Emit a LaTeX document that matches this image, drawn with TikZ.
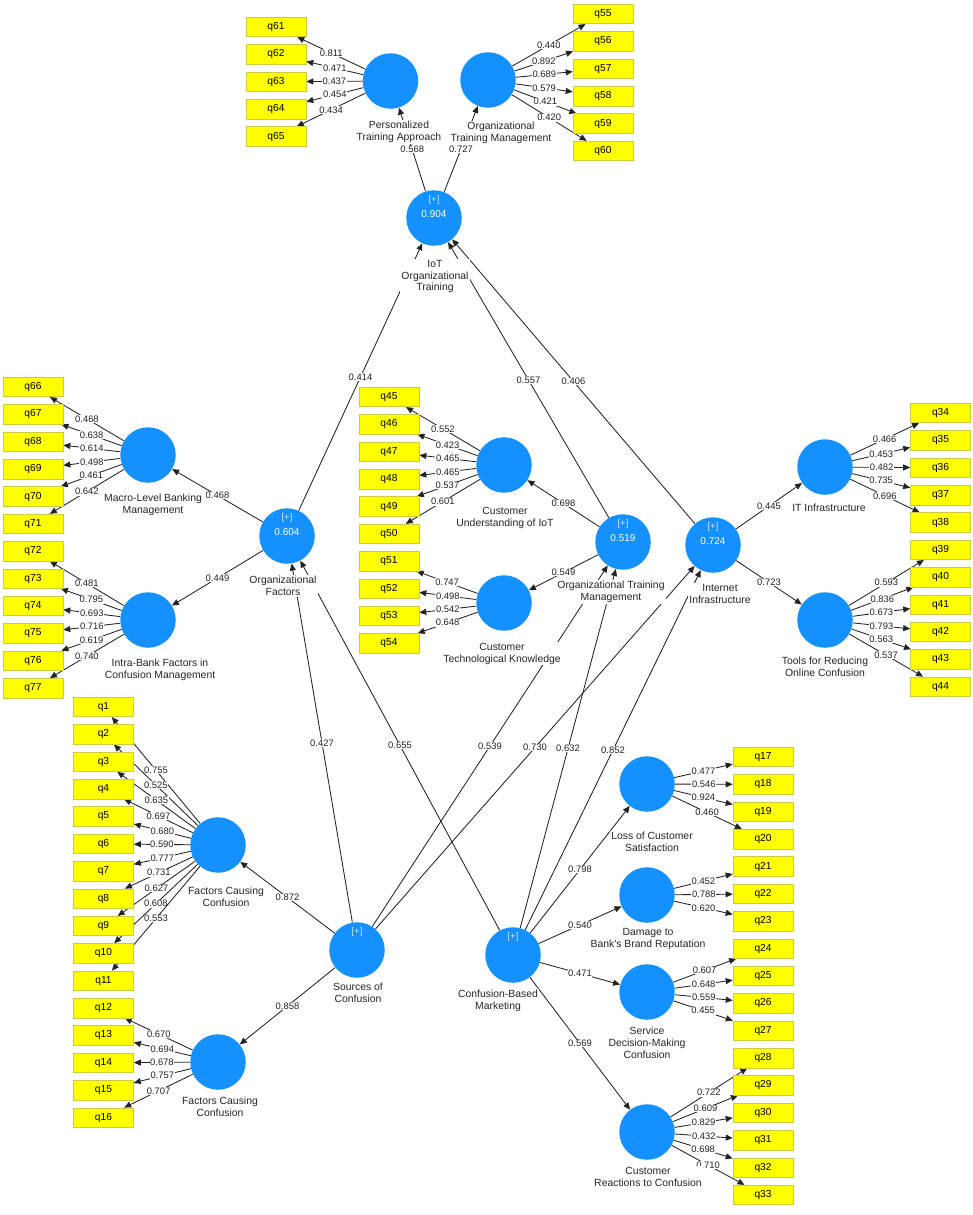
\documentclass[tikz,border=0pt]{standalone}
\usepackage{fontspec}
\setmainfont{Liberation Sans}
\usetikzlibrary{arrows.meta}
\definecolor{lvblue}{RGB}{20,145,255}
\definecolor{indyellow}{RGB}{255,255,0}
\definecolor{indrule}{RGB}{205,205,60}
\definecolor{plusblue}{RGB}{200,228,255}
\definecolor{pathgray}{RGB}{35,35,35}
\pgfdeclarelayer{edges}
\pgfsetlayers{edges,main}

\begin{document}
\begin{tikzpicture}[x=1pt,y=-1pt,>={Triangle[length=7pt,width=6pt]},
  every edge/.style={draw=pathgray,line width=0.85pt},
  lv/.style={circle,fill=lvblue,minimum size=55.5pt,inner sep=0pt},
  ind/.style={draw=indrule,line width=0.6pt,fill=indyellow,minimum width=60pt,minimum height=19.5pt,inner sep=0pt,font=\fontsize{10.2}{10.2}\selectfont},
  val/.style={pos=0.5,fill=white,inner sep=0.6pt,text=pathgray,font=\fontsize{9.4}{9.4}\selectfont},
  lvname/.style={fill=white,inner sep=1pt,anchor=north,align=center,text=black!85,font=\fontsize{10.4}{11.7}\selectfont},
  lvval/.style={text=white,inner sep=0pt,font=\fontsize{10}{10}\selectfont},
  lvplus/.style={text=plusblue,inner sep=0pt,font=\fontsize{9.5}{9.5}\selectfont}]

    \useasboundingbox (0,0) rectangle (973,1215);

    % constructs
    \node[lv] at (390.5, 81) (pta) {};
    \node[lv] at (488, 80) (otmt) {};
    \node[lv] at (434, 218) (iot) {};
    \node[lv] at (148, 455) (mlb) {};
    \node[lv] at (148, 620) (ibf) {};
    \node[lv] at (287, 536) (of) {};
    \node[lv] at (504, 465) (cui) {};
    \node[lv] at (504, 603) (ctk) {};
    \node[lv] at (623, 542) (otm) {};
    \node[lv] at (713, 545) (ii) {};
    \node[lv] at (825, 467) (iti) {};
    \node[lv] at (825, 620) (tro) {};
    \node[lv] at (218, 845) (fcc) {};
    \node[lv] at (218, 1062) (fccb) {};
    \node[lv] at (357, 950) (soc) {};
    \node[lv] at (513, 955) (cbm) {};
    \node[lv] at (647, 784) (lcs) {};
    \node[lv] at (647, 895) (dbr) {};
    \node[lv] at (647, 992) (sdm) {};
    \node[lv] at (647, 1132) (crc) {};

    \node[lvplus] at ([yshift=18pt]iot.center) (iotplus) {[+]};
    \node[lvval] at ([yshift=4pt]iot.center) (iotr) {0.904};
    \node[lvplus] at ([yshift=18pt]of.center) (ofplus) {[+]};
    \node[lvval] at ([yshift=4pt]of.center) (ofr) {0.604};
    \node[lvplus] at ([yshift=18pt]otm.center) (otmplus) {[+]};
    \node[lvval] at ([yshift=4pt]otm.center) (otmr) {0.519};
    \node[lvplus] at ([yshift=18pt]ii.center) (iiplus) {[+]};
    \node[lvval] at ([yshift=4pt]ii.center) (iir) {0.724};
    \node[lvplus] at ([yshift=18pt]soc.center) (socplus) {[+]};
    \node[lvplus] at ([yshift=18pt]cbm.center) (cbmplus) {[+]};

    % construct names
    \node[lvname] at (399, 120) (ptaname) {Personalized\\Training Approach};
    \node[lvname] at (501, 121) (otmtname) {Organizational\\Training Management};
    \node[lvname] at (435, 259) (iotname) {IoT\\Organizational\\Training};
    \node[lvname] at (153, 493) (mlbname) {Macro-Level Banking\\Management};
    \node[lvname] at (160, 658) (ibfname) {Intra-Bank Factors in\\Confusion Management};
    \node[lvname] at (283, 575) (ofname) {Organizational\\Factors};
    \node[lvname] at (505, 506) (cuiname) {Customer\\Understanding of IoT};
    \node[lvname] at (502, 642) (ctkname) {Customer\\Technological Knowledge};
    \node[lvname] at (611, 580) (otmname) {Organizational Training\\Management};
    \node[lvname] at (720, 583) (iiname) {Internet\\Infrastructure};
    \node[lvname] at (829, 503) (itiname) {IT Infrastructure};
    \node[lvname] at (825, 656) (troname) {Tools for Reducing\\Online Confusion};
    \node[lvname] at (226, 886) (fccname) {Factors Causing\\Confusion};
    \node[lvname] at (220, 1096) (fccbname) {Factors Causing\\Confusion};
    \node[lvname] at (358, 982) (socname) {Sources of\\Confusion};
    \node[lvname] at (498, 989) (cbmname) {Confusion-Based\\Marketing};
    \node[lvname] at (652, 831) (lcsname) {Loss of Customer\\Satisfaction};
    \node[lvname] at (648, 927) (dbrname) {Damage to\\Bank's Brand Reputation};
    \node[lvname] at (647, 1026) (sdmname) {Service\\Decision-Making\\Confusion};
    \node[lvname] at (648, 1166) (crcname) {Customer\\Reactions to Confusion};

    % indicators
    \node[ind] at (276, 27) (q61) {q61};
    \node[ind] at (276, 54.4) (q62) {q62};
    \node[ind] at (276, 81.7) (q63) {q63};
    \node[ind] at (276, 109.1) (q64) {q64};
    \node[ind] at (276, 136.5) (q65) {q65};

    \node[ind] at (603, 14) (q55) {q55};
    \node[ind] at (603, 41.4) (q56) {q56};
    \node[ind] at (603, 68.7) (q57) {q57};
    \node[ind] at (603, 96.1) (q58) {q58};
    \node[ind] at (603, 123.5) (q59) {q59};
    \node[ind] at (603, 150.9) (q60) {q60};

    \node[ind] at (33, 387) (q66) {q66};
    \node[ind] at (33, 414.4) (q67) {q67};
    \node[ind] at (33, 441.7) (q68) {q68};
    \node[ind] at (33, 469.1) (q69) {q69};
    \node[ind] at (33, 496.5) (q70) {q70};
    \node[ind] at (33, 523.9) (q71) {q71};
    \node[ind] at (33, 551.2) (q72) {q72};
    \node[ind] at (33, 578.6) (q73) {q73};
    \node[ind] at (33, 606) (q74) {q74};
    \node[ind] at (33, 633.3) (q75) {q75};
    \node[ind] at (33, 660.7) (q76) {q76};
    \node[ind] at (33, 688.1) (q77) {q77};

    \node[ind] at (389, 397) (q45) {q45};
    \node[ind] at (389, 424.4) (q46) {q46};
    \node[ind] at (389, 451.7) (q47) {q47};
    \node[ind] at (389, 479.1) (q48) {q48};
    \node[ind] at (389, 506.5) (q49) {q49};
    \node[ind] at (389, 533.9) (q50) {q50};
    \node[ind] at (389, 561.2) (q51) {q51};
    \node[ind] at (389, 588.6) (q52) {q52};
    \node[ind] at (389, 616) (q53) {q53};
    \node[ind] at (389, 643.3) (q54) {q54};

    \node[ind] at (940.5, 413) (q34) {q34};
    \node[ind] at (940.5, 440.4) (q35) {q35};
    \node[ind] at (940.5, 467.7) (q36) {q36};
    \node[ind] at (940.5, 495.1) (q37) {q37};
    \node[ind] at (940.5, 522.5) (q38) {q38};
    \node[ind] at (940.5, 549.9) (q39) {q39};
    \node[ind] at (940.5, 577.2) (q40) {q40};
    \node[ind] at (940.5, 604.6) (q41) {q41};
    \node[ind] at (940.5, 632) (q42) {q42};
    \node[ind] at (940.5, 659.3) (q43) {q43};
    \node[ind] at (940.5, 686.7) (q44) {q44};

    \node[ind] at (103.5, 707) (q1) {q1};
    \node[ind] at (103.5, 734.4) (q2) {q2};
    \node[ind] at (103.5, 761.7) (q3) {q3};
    \node[ind] at (103.5, 789.1) (q4) {q4};
    \node[ind] at (103.5, 816.5) (q5) {q5};
    \node[ind] at (103.5, 843.9) (q6) {q6};
    \node[ind] at (103.5, 871.2) (q7) {q7};
    \node[ind] at (103.5, 898.6) (q8) {q8};
    \node[ind] at (103.5, 926) (q9) {q9};
    \node[ind] at (103.5, 953.3) (q10) {q10};
    \node[ind] at (103.5, 980.7) (q11) {q11};
    \node[ind] at (103.5, 1008.1) (q12) {q12};
    \node[ind] at (103.5, 1035.4) (q13) {q13};
    \node[ind] at (103.5, 1062.8) (q14) {q14};
    \node[ind] at (103.5, 1090.2) (q15) {q15};
    \node[ind] at (103.5, 1117.6) (q16) {q16};

    \node[ind] at (763, 757) (q17) {q17};
    \node[ind] at (763, 784.4) (q18) {q18};
    \node[ind] at (763, 811.7) (q19) {q19};
    \node[ind] at (763, 839.1) (q20) {q20};
    \node[ind] at (763, 866.5) (q21) {q21};
    \node[ind] at (763, 893.9) (q22) {q22};
    \node[ind] at (763, 921.2) (q23) {q23};
    \node[ind] at (763, 948.6) (q24) {q24};
    \node[ind] at (763, 976) (q25) {q25};
    \node[ind] at (763, 1003.3) (q26) {q26};
    \node[ind] at (763, 1030.7) (q27) {q27};
    \node[ind] at (763, 1058.1) (q28) {q28};
    \node[ind] at (763, 1085.4) (q29) {q29};
    \node[ind] at (763, 1112.8) (q30) {q30};
    \node[ind] at (763, 1140.2) (q31) {q31};
    \node[ind] at (763, 1167.6) (q32) {q32};
    \node[ind] at (763, 1194.9) (q33) {q33};

    \begin{pgfonlayer}{edges}
    % outer loadings
    \path[->] (pta) edge node[val] {0.811} (q61);
    \path[->] (pta) edge node[val] {0.471} (q62);
    \path[->] (pta) edge node[val] {0.437} (q63);
    \path[->] (pta) edge node[val] {0.454} (q64);
    \path[->] (pta) edge node[val] {0.434} (q65);

    \path[->] (otmt) edge node[val] {0.440} (q55);
    \path[->] (otmt) edge node[val] {0.892} (q56);
    \path[->] (otmt) edge node[val] {0.689} (q57);
    \path[->] (otmt) edge node[val] {0.579} (q58);
    \path[->] (otmt) edge node[val] {0.421} (q59);
    \path[->] (otmt) edge node[val] {0.420} (q60);

    \path[->] (mlb) edge node[val] {0.468} (q66);
    \path[->] (mlb) edge node[val] {0.638} (q67);
    \path[->] (mlb) edge node[val] {0.614} (q68);
    \path[->] (mlb) edge node[val] {0.498} (q69);
    \path[->] (mlb) edge node[val] {0.461} (q70);
    \path[->] (mlb) edge node[val] {0.642} (q71);

    \path[->] (ibf) edge node[val] {0.481} (q72);
    \path[->] (ibf) edge node[val] {0.795} (q73);
    \path[->] (ibf) edge node[val] {0.693} (q74);
    \path[->] (ibf) edge node[val] {0.716} (q75);
    \path[->] (ibf) edge node[val] {0.619} (q76);
    \path[->] (ibf) edge node[val] {0.740} (q77);

    \path[->] (cui) edge node[val] {0.552} (q45);
    \path[->] (cui) edge node[val] {0.423} (q46);
    \path[->] (cui) edge node[val] {0.465} (q47);
    \path[->] (cui) edge node[val] {0.465} (q48);
    \path[->] (cui) edge node[val] {0.537} (q49);
    \path[->] (cui) edge node[val] {0.601} (q50);

    \path[->] (ctk) edge node[val] {0.747} (q51);
    \path[->] (ctk) edge node[val] {0.498} (q52);
    \path[->] (ctk) edge node[val] {0.542} (q53);
    \path[->] (ctk) edge node[val] {0.648} (q54);

    \path[->] (iti) edge node[val] {0.466} (q34);
    \path[->] (iti) edge node[val] {0.453} (q35);
    \path[->] (iti) edge node[val] {0.482} (q36);
    \path[->] (iti) edge node[val] {0.735} (q37);
    \path[->] (iti) edge node[val] {0.696} (q38);

    \path[->] (tro) edge node[val] {0.593} (q39);
    \path[->] (tro) edge node[val] {0.836} (q40);
    \path[->] (tro) edge node[val] {0.673} (q41);
    \path[->] (tro) edge node[val] {0.793} (q42);
    \path[->] (tro) edge node[val] {0.563} (q43);
    \path[->] (tro) edge node[val] {0.537} (q44);

    \path[->] (fcc) edge node[val] {0.755} (q1);
    \path[->] (fcc) edge node[val] {0.525} (q2);
    \path[->] (fcc) edge node[val] {0.635} (q3);
    \path[->] (fcc) edge node[val] {0.697} (q4);
    \path[->] (fcc) edge node[val] {0.680} (q5);
    \path[->] (fcc) edge node[val] {0.590} (q6);
    \path[->] (fcc) edge node[val] {0.777} (q7);
    \path[->] (fcc) edge node[val] {0.731} (q8);
    \path[->] (fcc) edge node[val] {0.627} (q9);
    \path[->] (fcc) edge node[val] {0.608} (q10);
    \path[->] (fcc) edge node[val] {0.553} (q11);

    \path[->] (fccb) edge node[val] {0.670} (q12);
    \path[->] (fccb) edge node[val] {0.694} (q13);
    \path[->] (fccb) edge node[val] {0.678} (q14);
    \path[->] (fccb) edge node[val] {0.757} (q15);
    \path[->] (fccb) edge node[val] {0.707} (q16);

    \path[->] (lcs) edge node[val] {0.477} (q17);
    \path[->] (lcs) edge node[val] {0.546} (q18);
    \path[->] (lcs) edge node[val] {0.924} (q19);
    \path[->] (lcs) edge node[val] {0.460} (q20);

    \path[->] (dbr) edge node[val] {0.452} (q21);
    \path[->] (dbr) edge node[val] {0.788} (q22);
    \path[->] (dbr) edge node[val] {0.620} (q23);

    \path[->] (sdm) edge node[val] {0.607} (q24);
    \path[->] (sdm) edge node[val] {0.648} (q25);
    \path[->] (sdm) edge node[val] {0.559} (q26);
    \path[->] (sdm) edge node[val] {0.455} (q27);

    \path[->] (crc) edge node[val] {0.722} (q28);
    \path[->] (crc) edge node[val] {0.609} (q29);
    \path[->] (crc) edge node[val] {0.829} (q30);
    \path[->] (crc) edge node[val] {0.432} (q31);
    \path[->] (crc) edge node[val] {0.698} (q32);
    \path[->] (crc) edge node[val] {0.710} (q33);

    % inner paths
    \path[->] (iot) edge node[val] {0.568} (pta);
    \path[->] (iot) edge node[val] {0.727} (otmt);
    \path[->] (of) edge node[val] {0.414} (iot);
    \path[->] (otm) edge node[val] {0.557} (iot);
    \path[->] (ii) edge node[val] {0.406} (iot);
    \path[->] (of) edge node[val] {0.468} (mlb);
    \path[->] (of) edge node[val] {0.449} (ibf);
    \path[->] (otm) edge node[val] {0.698} (cui);
    \path[->] (otm) edge node[val] {0.549} (ctk);
    \path[->] (ii) edge node[val] {0.445} (iti);
    \path[->] (ii) edge node[val] {0.723} (tro);
    \path[->] (soc) edge node[val] {0.427} (of);
    \path[->] (cbm) edge node[val] {0.655} (of);
    \path[->] (soc) edge node[val] {0.539} (otm);
    \path[->] (cbm) edge node[val] {0.632} (otm);
    \path[->] (soc) edge node[val] {0.730} (ii);
    \path[->] (cbm) edge node[val] {0.852} (ii);
    \path[->] (soc) edge node[val] {0.872} (fcc);
    \path[->] (soc) edge node[val] {0.858} (fccb);
    \path[->] (cbm) edge node[val] {0.798} (lcs);
    \path[->] (cbm) edge node[val] {0.540} (dbr);
    \path[->] (cbm) edge node[val] {0.471} (sdm);
    \path[->] (cbm) edge node[val] {0.569} (crc);
    \end{pgfonlayer}
\end{tikzpicture}
\end{document}
